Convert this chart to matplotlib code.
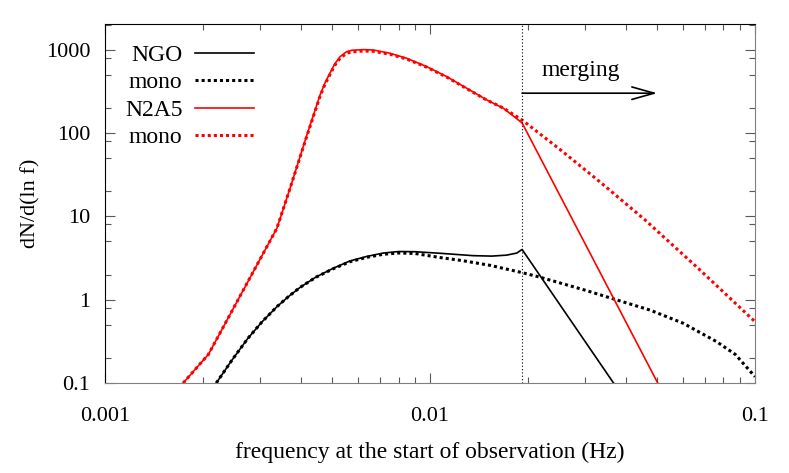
"""
    Number of sources per log frequency, NGO vs N2A5
"""
import matplotlib.pyplot as plt
from matplotlib.ticker import LogLocator, FuncFormatter, NullFormatter

plt.rcParams['font.family'] = ['Liberation Serif', 'DejaVu Serif']

# N2A5, full signal (red solid)
f_n2a5 = [0.00174, 0.00208, 0.00338, 0.00371, 0.00418, 0.00459, 0.00475,
          0.00492, 0.00509, 0.00529, 0.00554, 0.00575, 0.00623, 0.00669,
          0.00753, 0.00848, 0.00977, 0.01126, 0.01297, 0.01495, 0.01681,
          0.0192, 0.0307, 0.0502]
dn_n2a5 = [0.1, 0.22, 7.2, 21.7, 94.6, 286, 398,
           521, 673, 824, 946, 982, 1000, 990,
           904, 787, 625, 474, 344, 249, 198,
           132, 3.95, 0.1]

# N2A5, monochromatic (red dotted)
f_n2a5_mono = [0.00174, 0.00208, 0.00338, 0.00371, 0.00418, 0.00459, 0.00475,
               0.00492, 0.00509, 0.00529, 0.00554, 0.00575, 0.00623, 0.00669,
               0.00753, 0.00848, 0.00977, 0.01126, 0.01297, 0.01495, 0.01681,
               0.0192, 0.0251, 0.0334, 0.0459, 0.0677, 0.1]
dn_n2a5_mono = [0.1, 0.22, 7.2, 21.7, 92, 276, 383,
                500, 645, 790, 905, 940, 962, 955,
                880, 770, 615, 468, 340, 248, 199,
                143, 63.5, 25.7, 9.04, 2.27, 0.544]

# NGO, full signal (black solid)
f_ngo = [0.0022, 0.00246, 0.00275, 0.00304, 0.00338, 0.00366, 0.00398,
         0.00446, 0.00504, 0.00567, 0.00639, 0.00717, 0.008, 0.009,
         0.01073, 0.01359, 0.0155, 0.0172, 0.01849, 0.0192, 0.0367]
dn_ngo = [0.1, 0.189, 0.342, 0.54, 0.823, 1.08, 1.40,
          1.87, 2.38, 2.91, 3.30, 3.62, 3.78, 3.76,
          3.60, 3.37, 3.33, 3.42, 3.62, 4.0, 0.1]

# NGO, monochromatic (black dotted)
f_ngo_mono = [0.0022, 0.00246, 0.00275, 0.00304, 0.00338, 0.00366, 0.00398,
              0.00446, 0.00504, 0.00567, 0.00639, 0.00717, 0.008, 0.009,
              0.01073, 0.0125, 0.0153, 0.0192, 0.0218, 0.03, 0.0367,
              0.0475, 0.0602, 0.0762, 0.087, 0.1]
dn_ngo_mono = [0.1, 0.189, 0.342, 0.54, 0.823, 1.08, 1.40,
               1.86, 2.35, 2.85, 3.22, 3.50, 3.63, 3.58,
               3.20, 2.95, 2.58, 2.11, 1.86, 1.30, 1.02,
               0.75, 0.52, 0.313, 0.22, 0.119]

f_merge = 0.0192

fig = plt.figure(figsize=(7.89, 4.73), dpi=100)
ax = fig.add_axes([0.1331, 0.1903, 0.8238, 0.759])

dots = (0, (1, 1))
ax.plot(f_ngo, dn_ngo, color='black', lw=1.2, label='NGO')
ax.plot(f_ngo_mono, dn_ngo_mono, color='black', lw=2.2, ls=dots, label='mono')
ax.plot(f_n2a5, dn_n2a5, color='red', lw=1.2, label='N2A5')
ax.plot(f_n2a5_mono, dn_n2a5_mono, color='red', lw=2.2, ls=dots, label='mono')

ax.axvline(f_merge, color='black', lw=0.8, ls=(0, (1, 2)))
ax.annotate('', xy=(0.05, 300), xytext=(f_merge, 300),
            arrowprops=dict(arrowstyle='->,head_length=1.6,head_width=0.45',
                            lw=1.2, color='black', shrinkA=0, shrinkB=0))
ax.text(0.0221, 483, 'merging', fontsize=17, va='baseline', ha='left')

ax.set_xscale('log')
ax.set_yscale('log')
ax.set_xlim(0.001, 0.1)
ax.set_ylim(0.1, 2030)

fmt = FuncFormatter(lambda v, pos: '%g' % v)
ax.xaxis.set_major_formatter(fmt)
ax.yaxis.set_major_formatter(fmt)
ax.xaxis.set_minor_locator(LogLocator(base=10, subs=range(2, 10)))
ax.yaxis.set_minor_locator(LogLocator(base=10, subs=(2, 5, 8)))
ax.xaxis.set_minor_formatter(NullFormatter())
ax.yaxis.set_minor_formatter(NullFormatter())

ax.tick_params(which='both', direction='in', top=True, right=True,
               color='0.35', labelsize=16)
ax.tick_params(which='major', length=7, width=0.8)
ax.tick_params(which='minor', length=4, width=0.8)
ax.tick_params(axis='x', pad=17)
ax.tick_params(axis='y', pad=10.5)

for side in ['top', 'left']:
    ax.spines[side].set_color('black')
for side in ['bottom', 'right']:
    ax.spines[side].set_color('0.5')

ax.set_xlabel('frequency at the start of observation (Hz)', fontsize=17)
ax.xaxis.set_label_coords(0.5, -0.163)
ax.set_ylabel('dN/d(ln f)', fontsize=16)
ax.yaxis.set_label_coords(-0.10, 0.5)

ax.legend(loc='upper right', bbox_to_anchor=(0.229, 0.943), frameon=False,
          markerfirst=False, alignment='right', fontsize=17,
          handlelength=2.5, handletextpad=0.52, labelspacing=0.25,
          borderpad=0, borderaxespad=0)

fig.savefig('out.png', dpi=100)
